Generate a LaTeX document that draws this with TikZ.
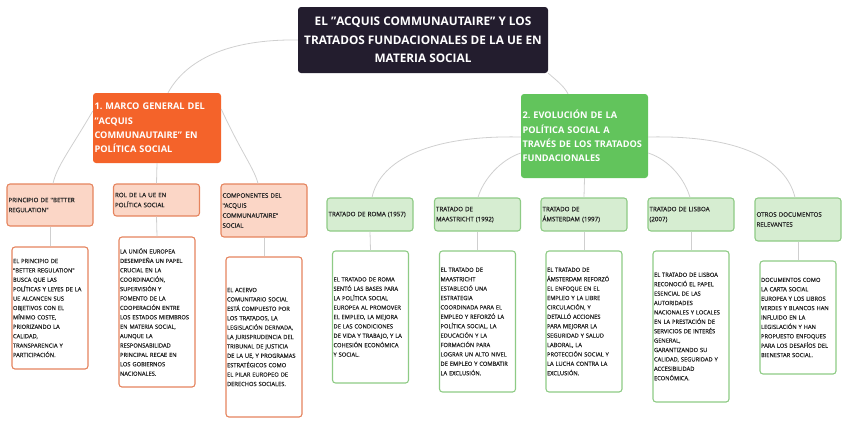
\documentclass[tikz,border=0pt]{standalone}
\usepackage{fontspec}
\setmainfont{Open Sans}
\newfontfamily\medfont{Open Sans}[FakeBold=0.5]
\usepackage{tikz}
\usetikzlibrary{positioning, calc}
\usepackage{xcolor}

\definecolor{rootdark}{HTML}{231D2E}
\definecolor{mainorange}{HTML}{F4632A}
\definecolor{maingreen}{HTML}{62C45C}
\definecolor{lightorange}{HTML}{FBD6C6}
\definecolor{edgeorange}{HTML}{E5845E}
\definecolor{lightgreen}{HTML}{D6EDD1}
\definecolor{edgegreen}{HTML}{8ECB85}
\definecolor{linkgray}{HTML}{CFCFCF}
\definecolor{inktext}{HTML}{262626}

\begin{document}
\begin{tikzpicture}[
  x=1pt, y=-1pt,
  rootbox/.style={fill=rootdark, rounded corners=3pt, text=white, align=center,
                  minimum width=250pt, minimum height=66pt, inner sep=0pt,
                  font=\bfseries\fontsize{11.8}{18.5}\selectfont},
  mainbox/.style={rounded corners=3pt, text=white, align=left, inner xsep=1.5pt,
                  font=\bfseries\fontsize{9.2}{14.3}\selectfont},
  headbox/.style={rounded corners=3pt, line width=1.1pt, align=left, text=inktext,
                  text width=83pt, inner xsep=1.5pt, inner ysep=0pt,
                  font=\medfont\fontsize{6.2}{10}\selectfont},
  bodybox/.style={rounded corners=3pt, line width=1.1pt, fill=white, align=left,
                  text width=74pt, inner xsep=1pt, inner ysep=0pt, text=inktext,
                  font=\medfont\fontsize{5.75}{9.4}\selectfont},
  ohead/.style={headbox, draw=edgeorange, fill=lightorange},
  obody/.style={bodybox, draw=edgeorange},
  ghead/.style={headbox, draw=edgegreen, fill=lightgreen},
  gbody/.style={bodybox, draw=edgegreen},
  link/.style={draw=linkgray, line width=0.8pt}
]
\path[use as bounding box] (0,0) rectangle (848,424);

% ---------------------------------------------- the title
\node[rootbox] (root) at (423,40)
  {EL "ACQUIS COMMUNAUTAIRE" Y LOS\\ TRATADOS FUNDACIONALES DE LA UE EN\\ MATERIA SOCIAL};

% ---------------------------------------------- the two branches
\node[mainbox, fill=mainorange, text width=125pt, minimum height=70pt] (marco) at (157,128)
  {1.\ MARCO GENERAL DEL\\ "ACQUIS\\ COMMUNAUTAIRE" EN\\ POLÍTICA SOCIAL};
\node[mainbox, fill=maingreen, text width=124pt, minimum height=84pt] (evol) at (584.5,136)
  {2.\ EVOLUCIÓN DE LA\\ POLÍTICA SOCIAL A\\ TRAVÉS DE LOS TRATADOS\\ FUNDACIONALES};

\draw[link] (root.west) .. controls (228,39) and (186,60) .. ([xshift=11pt]marco.north);
\draw[link] (root.south east) .. controls (556,80) and (564,86) .. ([xshift=-16.5pt]evol.north);

% ---------------------------------------------- first branch
\node[ohead, minimum height=42pt] (princ) at (50,205)
  {PRINCIPIO DE "BETTER\\ REGULATION"};
\node[ohead, minimum height=32pt] (rol) at (156.5,200)
  {ROL DE LA UE EN\\ POLÍTICA SOCIAL};
\node[ohead, minimum height=53pt] (comp) at (264,210.5)
  {COMPONENTES DEL\\ "ACQUIS\\ COMMUNAUTAIRE"\\ SOCIAL};

\draw[link] ([yshift=17pt]marco.west) .. controls (70,150) and (57,166) .. ([xshift=3pt]princ.north);
\draw[link] (marco.south) -- (rol.north);
\draw[link] ([yshift=19pt]marco.east) .. controls (241,152) and (254,168) .. ([xshift=-6pt]comp.north);

\node[obody, minimum height=122pt] (princtxt) at (50,308)
  {EL PRINCIPIO DE\\ "BETTER REGULATION"\\ BUSCA QUE LAS\\ POLÍTICAS Y LEYES DE LA\\
   UE ALCANCEN SUS\\ OBJETIVOS CON EL\\ MÍNIMO COSTE,\\ PRIORIZANDO LA\\ CALIDAD,\\
   TRANSPARENCIA Y\\ PARTICIPACIÓN.};
\node[obody, minimum height=150pt] (roltxt) at (157,312)
  {LA UNIÓN EUROPEA\\ DESEMPEÑA UN PAPEL\\ CRUCIAL EN LA\\ COORDINACIÓN,\\ SUPERVISIÓN Y\\
   FOMENTO DE LA\\ COOPERACIÓN ENTRE\\ LOS ESTADOS MIEMBROS\\ EN MATERIA SOCIAL,\\
   AUNQUE LA\\ RESPONSABILIDAD\\ PRINCIPAL RECAE EN\\ LOS GOBIERNOS\\ NACIONALES.};
\node[obody, minimum height=160pt] (comptxt) at (264,337)
  {EL ACERVO\\ COMUNITARIO SOCIAL\\ ESTÁ COMPUESTO POR\\ LOS TRATADOS, LA\\
   LEGISLACIÓN DERIVADA,\\ LA JURISPRUDENCIA DEL\\ TRIBUNAL DE JUSTICIA\\
   DE LA UE, Y PROGRAMAS\\ ESTRATÉGICOS COMO\\ EL PILAR EUROPEO DE\\ DERECHOS SOCIALES.};

\draw[link] (princ.south) -- (princtxt.north);
\draw[link] (rol.south) -- (roltxt.north);
\draw[link] (comp.south) -- (comptxt.north);

% ---------------------------------------------- second branch
\node[ghead, minimum height=33pt] (roma) at (370,214.5) {TRATADO DE ROMA (1957)};
\node[ghead, minimum height=33pt] (maas) at (477.5,214.5) {TRATADO DE\\ MAASTRICHT (1992)};
\node[ghead, minimum height=33pt] (amst) at (584,214.5) {TRATADO DE\\ ÁMSTERDAM (1997)};
\node[ghead, minimum height=33pt] (lisb) at (691,214.5) {TRATADO DE LISBOA\\ (2007)};
\node[ghead, minimum height=43pt] (otros) at (798,219.5) {OTROS DOCUMENTOS\\ RELEVANTES};

\draw[link] ([yshift=-1pt]evol.west) .. controls (430,135) and (380,160) .. ([xshift=2pt]roma.north);
\draw[link] ([yshift=-17pt]evol.west) .. controls (500,160) and (483,180) .. ([xshift=0.5pt]maas.north);
\draw[link] (evol.south) -- (amst.north);
\draw[link] ([yshift=-17pt]evol.east) .. controls (670,160) and (685,180) .. ([xshift=-1pt]lisb.north);
\draw[link] ([yshift=-1pt]evol.east) .. controls (740,135) and (786,160) .. ([xshift=-3pt]otros.north);

\node[gbody, minimum height=132pt] (romatxt) at (370.5,317)
  {EL TRATADO DE ROMA\\ SENTÓ LAS BASES PARA\\ LA POLÍTICA SOCIAL\\ EUROPEA AL PROMOVER\\
   EL EMPLEO, LA MEJORA\\ DE LAS CONDICIONES\\ DE VIDA Y TRABAJO, Y LA\\
   COHESIÓN ECONÓMICA\\ Y SOCIAL.};
\node[gbody, minimum height=141pt] (maastxt) at (477.5,321.5)
  {EL TRATADO DE\\ MAASTRICHT\\ ESTABLECIÓ UNA\\ ESTRATEGIA\\ COORDINADA PARA EL\\
   EMPLEO Y REFORZÓ LA\\ POLÍTICA SOCIAL, LA\\ EDUCACIÓN Y LA\\ FORMACIÓN PARA\\
   LOGRAR UN ALTO NIVEL\\ DE EMPLEO Y COMBATIR\\ LA EXCLUSIÓN.};
\node[gbody, minimum height=141pt] (amsttxt) at (584,321.5)
  {EL TRATADO DE\\ ÁMSTERDAM REFORZÓ\\ EL ENFOQUE EN EL\\ EMPLEO Y LA LIBRE\\
   CIRCULACIÓN, Y\\ DETALLÓ ACCIONES\\ PARA MEJORAR LA\\ SEGURIDAD Y SALUD\\
   LABORAL, LA\\ PROTECCIÓN SOCIAL Y\\ LA LUCHA CONTRA LA\\ EXCLUSIÓN.};
\node[gbody, minimum height=151pt] (lisbtxt) at (691,326.5)
  {EL TRATADO DE LISBOA\\ RECONOCIÓ EL PAPEL\\ ESENCIAL DE LAS\\ AUTORIDADES\\
   NACIONALES Y LOCALES\\ EN LA PRESTACIÓN DE\\ SERVICIOS DE INTERÉS\\ GENERAL,\\
   GARANTIZANDO SU\\ CALIDAD, SEGURIDAD Y\\ ACCESIBILIDAD\\ ECONÓMICA.};
\node[gbody, minimum height=113pt] (otrostxt) at (798,317.5)
  {DOCUMENTOS COMO\\ LA CARTA SOCIAL\\ EUROPEA Y LOS LIBROS\\ VERDES Y BLANCOS HAN\\
   INFLUIDO EN LA\\ LEGISLACIÓN Y HAN\\ PROPUESTO ENFOQUES\\ PARA LOS DESAFÍOS DEL\\
   BIENESTAR SOCIAL.};

\draw[link] (roma.south) -- (romatxt.north);
\draw[link] (maas.south) -- (maastxt.north);
\draw[link] (amst.south) -- (amsttxt.north);
\draw[link] (lisb.south) -- (lisbtxt.north);
\draw[link] (otros.south) -- (otrostxt.north);

\end{tikzpicture}
\end{document}
